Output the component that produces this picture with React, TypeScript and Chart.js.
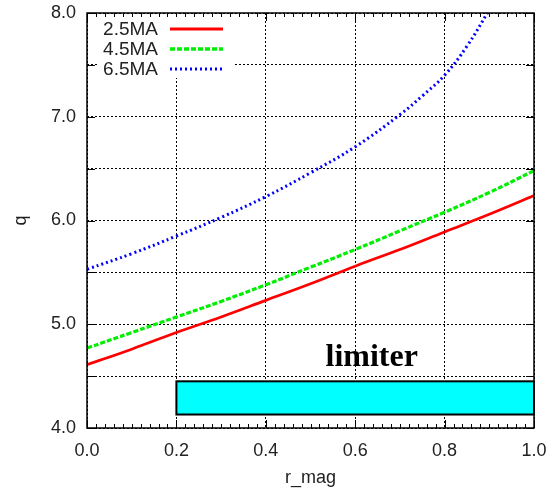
import React, { useEffect, useRef } from "react";
import { Chart, registerables } from "chart.js";
Chart.register(...registerables);

const rMag = [0, 0.1, 0.2, 0.3, 0.4, 0.5, 0.6, 0.7, 0.8, 0.9, 1.0];
const q25 = [4.61, 4.76, 4.92, 5.07, 5.23, 5.39, 5.56, 5.72, 5.89, 6.06, 6.24];
const q45 = [4.77, 4.92, 5.07, 5.22, 5.38, 5.55, 5.72, 5.9, 6.08, 6.27, 6.48];
const rMag65 = [0, 0.1, 0.2, 0.3, 0.4, 0.5, 0.6, 0.7, 0.75, 0.8, 0.85, 0.9];
const q65 = [5.53, 5.68, 5.85, 6.03, 6.23, 6.46, 6.71, 7.02, 7.2, 7.4, 7.68, 8.03];
const seriesLabels = ["2.5MA", "4.5MA", "6.5MA"];
const limiterR = [0.2, 1.0];
const limiterQ = [4.13, 4.45];
const limiterText = "limiter";
const limiterTextPos = [0.637, 4.6];
const xTitle = "r_mag";
const yTitle = "q";

const FONT = "'Liberation Sans', Arial, sans-serif";

export default function App() {
  const ref = useRef<HTMLCanvasElement | null>(null);
  useEffect(() => {
    const canvas = ref.current;
    if (!canvas) return;
    const pts = (xs: number[], ys: number[]) => ys.map((y, i) => ({ x: xs[i], y }));

    const boxPlugin = {
      id: "limiterBox",
      beforeDatasetsDraw(chart: any) {
        const { ctx, scales } = chart;
        const x0 = scales.x.getPixelForValue(limiterR[0]);
        const x1 = scales.x.getPixelForValue(limiterR[1]);
        const y0 = scales.y.getPixelForValue(limiterQ[1]);
        const y1 = scales.y.getPixelForValue(limiterQ[0]);
        ctx.save();
        ctx.fillStyle = "#00ffff";
        ctx.fillRect(x0, y0, x1 - x0, y1 - y0);
        ctx.strokeStyle = "#000";
        ctx.lineWidth = 2;
        ctx.strokeRect(x0, y0, x1 - x0, y1 - y0);
        ctx.font = "bold 32px 'Liberation Serif', 'Times New Roman', serif";
        ctx.fillStyle = "#000";
        ctx.textAlign = "center";
        ctx.textBaseline = "alphabetic";
        ctx.fillText(
          limiterText,
          scales.x.getPixelForValue(limiterTextPos[0]),
          scales.y.getPixelForValue(limiterTextPos[1])
        );
        ctx.restore();
      },
      afterDatasetsDraw(chart: any) {
        const { ctx, chartArea: a, scales } = chart;
        ctx.save();
        ctx.strokeStyle = "#000";
        ctx.lineWidth = 1;
        ctx.beginPath();
        for (let i = 0; i <= 50; i++) {
          const v = i / 50;
          const px = Math.round(scales.x.getPixelForValue(v)) + 0.5;
          const len = i % 10 === 0 ? 8 : 4;
          ctx.moveTo(px, a.bottom);
          ctx.lineTo(px, a.bottom - len);
          ctx.moveTo(px, a.top);
          ctx.lineTo(px, a.top + len);
        }
        for (let i = 0; i <= 8; i++) {
          const v = 4 + i * 0.5;
          const py = Math.round(scales.y.getPixelForValue(v)) + 0.5;
          ctx.moveTo(a.left, py);
          ctx.lineTo(a.left + 8, py);
          ctx.moveTo(a.right, py);
          ctx.lineTo(a.right - 8, py);
        }
        ctx.stroke();
        ctx.lineWidth = 1.5;
        ctx.strokeRect(a.left, a.top, a.right - a.left, a.bottom - a.top);

        // legend
        const colors = ["#ff0000", "#00ee00", "#0000ff"];
        const dashes = [[], [5, 2], [2, 3]];
        const widths = [3.2, 3.5, 3];
        ctx.fillStyle = "#fff";
        ctx.fillRect(a.left + 12, a.top + 4, 134, 61);
        ctx.font = "19px " + FONT;
        ctx.textAlign = "right";
        ctx.textBaseline = "middle";
        for (let i = 0; i < 3; i++) {
          const y = a.top + 16 + i * 20;
          ctx.fillStyle = "#222";
          ctx.fillText(seriesLabels[i], a.left + 71, y + 1);
          ctx.strokeStyle = colors[i];
          ctx.lineWidth = widths[i];
          ctx.setLineDash(dashes[i]);
          ctx.beginPath();
          ctx.moveTo(a.left + 83, y);
          ctx.lineTo(a.left + 136, y);
          ctx.stroke();
        }
        ctx.restore();
      },
    };

    const chart = new Chart(canvas, {
      type: "line",
      data: {
        datasets: [
          {
            label: seriesLabels[0],
            data: pts(rMag, q25),
            borderColor: "#ff0000",
            borderWidth: 2.7,
            pointRadius: 0,
            tension: 0.4,
          },
          {
            label: seriesLabels[1],
            data: pts(rMag, q45),
            borderColor: "#00ee00",
            borderWidth: 3.2,
            borderDash: [5, 2],
            pointRadius: 0,
            tension: 0.4,
          },
          {
            label: seriesLabels[2],
            data: pts(rMag65, q65),
            borderColor: "#0000ff",
            borderWidth: 3,
            borderDash: [2, 3],
            pointRadius: 0,
            tension: 0.4,
          },
        ],
      },
      options: {
        animation: false,
        responsive: false,
        layout: { padding: { left: 0, top: 13, right: 15, bottom: 0 } },
        plugins: { legend: { display: false }, tooltip: { enabled: false } },
        scales: {
          x: {
            type: "linear",
            min: 0,
            max: 1,
            afterFit(s: any) {
              s.height = 62;
              s.paddingLeft = 0;
              s.paddingRight = 0;
            },
            grid: { color: "#000", lineWidth: 1, drawTicks: false },
            border: { display: false, dash: [2, 2] },
            ticks: {
              stepSize: 0.2,
              padding: 12,
              color: "#222",
              font: { family: FONT, size: 18 },
              callback: (v: any) => Number(v).toFixed(1),
            },
            title: {
              display: true,
              text: xTitle,
              color: "#222",
              font: { family: FONT, size: 18 },
              padding: { top: 0, bottom: 1 },
            },
          },
          y: {
            min: 4,
            max: 8,
            afterFit(s: any) {
              s.width = 87;
              s.paddingTop = 0;
              s.paddingBottom = 0;
            },
            grid: { color: "#000", lineWidth: 1, drawTicks: false },
            border: { display: false, dash: [2, 2] },
            ticks: {
              stepSize: 0.5,
              padding: 11,
              color: "#222",
              font: { family: FONT, size: 18 },
              callback: (v: any) =>
                Math.abs(v - Math.round(v)) < 1e-6 ? Number(v).toFixed(1) : "",
            },
            title: {
              display: true,
              text: yTitle,
              color: "#222",
              font: { family: FONT, size: 18 },
              padding: { top: 10, bottom: 0 },
            },
          },
        },
      },
      plugins: [boxPlugin],
    } as any);
    return () => chart.destroy();
  }, []);
  return (
    <div style={{ position: "fixed", left: 0, top: 0, width: 549, height: 490, background: "#fff" }}>
      <canvas ref={ref} width={549} height={490} style={{ display: "block" }} />
    </div>
  );
}
